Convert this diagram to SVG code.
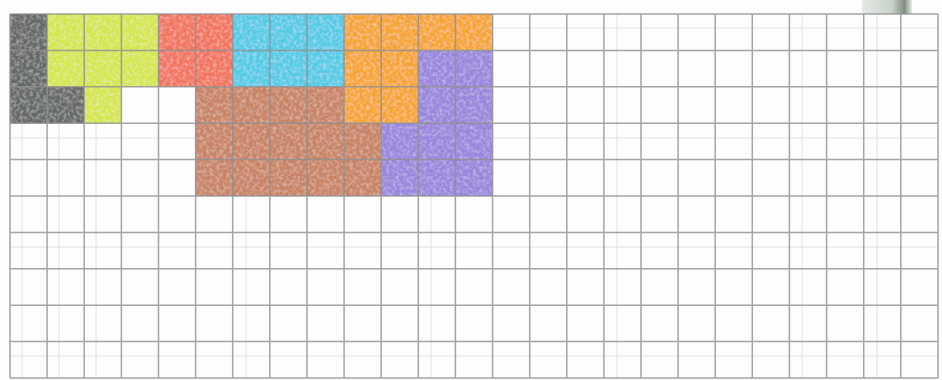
<svg xmlns="http://www.w3.org/2000/svg" width="942" height="380" viewBox="0 0 942 380">
  <defs>
    <filter id="crayon" x="0" y="0" width="1" height="1">
      <feTurbulence type="fractalNoise" baseFrequency="0.3" numOctaves="2" seed="3" result="n"/>
      <feColorMatrix in="n" type="matrix" values="0 0 0 0 1  0 0 0 0 1  0 0 0 0 1  0 0 0 -0.6 0.36" result="spots"/>
      <feComposite in="spots" in2="SourceGraphic" operator="in" result="s2"/>
      <feMerge><feMergeNode in="SourceGraphic"/><feMergeNode in="s2"/></feMerge>
    </filter>
    <linearGradient id="blob" x1="0" y1="0" x2="1" y2="0">
      <stop offset="0" stop-color="#e6e8e6"/>
      <stop offset="0.6" stop-color="#c9d2c9"/>
      <stop offset="0.85" stop-color="#7f8f80"/>
      <stop offset="1" stop-color="#e8ece8"/>
    </linearGradient>
    <style>
      .major { stroke: #8f8f8f; stroke-width: 1.5; fill: none; opacity: 0.8; }
      .minor { stroke: #e2e2e2; stroke-width: 1; fill: none; }
      .fill { filter: url(#crayon); }
    </style>
  </defs>
  <rect x="0" y="0" width="942" height="380" fill="#fdfdfd"/>
  <rect x="862" y="0" width="50" height="14" fill="url(#blob)"/>

  <g id="minor-grid">
    <path class="minor" d="M22,14 V378 M59,14 V378 M96,14 V378 M246,14 V378 M431,14 V378 M617,14 V378 M802,14 V378 M877,14 V378 M10,28 H938 M10,138 H938 M10,247 H938 M10,356 H938"/>
  </g>

  <g id="colors">
    <path id="gray" class="fill" fill="#666a66" d="M10,14 H47.1 V86.8 H84.2 V123.2 H10 Z"/>
    <path id="yellow" class="fill" fill="#d6e64f" d="M47.1,14 H158.5 V86.8 H121.4 V123.2 H84.2 V86.8 H47.1 Z"/>
    <path id="red" class="fill" fill="#f27560" d="M158.5,14 H232.7 V86.8 H158.5 Z"/>
    <path id="cyan" class="fill" fill="#55cbe6" d="M232.7,14 H344.1 V86.8 H232.7 Z"/>
    <path id="brown" class="fill" fill="#c98465" d="M195.6,86.8 H344.1 V123.2 H381.2 V196 H195.6 Z"/>
    <path id="orange" class="fill" fill="#f6a532" d="M344.1,14 H492.6 V50.4 H418.3 V123.2 H344.1 Z"/>
    <path id="purple" class="fill" fill="#9a87dd" d="M418.3,50.4 H492.6 V196 H381.2 V123.2 H418.3 Z"/>
  </g>

  <g id="grid">
    <path class="major" d="M10,14 V378 M47.1,14 V378 M84.2,14 V378 M121.4,14 V378 M158.5,14 V378 M195.6,14 V378 M232.7,14 V378 M269.8,14 V378 M307,14 V378 M344.1,14 V378 M381.2,14 V378 M418.3,14 V378 M455.4,14 V378 M492.6,14 V378 M529.7,14 V378 M566.8,14 V378 M603.9,14 V378 M641,14 V378 M678.1,14 V378 M715.2,14 V378 M752.3,14 V378 M789.4,14 V378 M826.6,14 V378 M863.7,14 V378 M900.8,14 V378 M938,14 V378
      M10,14 H938 M10,50.4 H938 M10,86.8 H938 M10,123.2 H938 M10,159.6 H938 M10,196 H938 M10,232.4 H938 M10,268.8 H938 M10,305.2 H938 M10,341.6 H938 M10,378 H938"/>
  </g>
</svg>
